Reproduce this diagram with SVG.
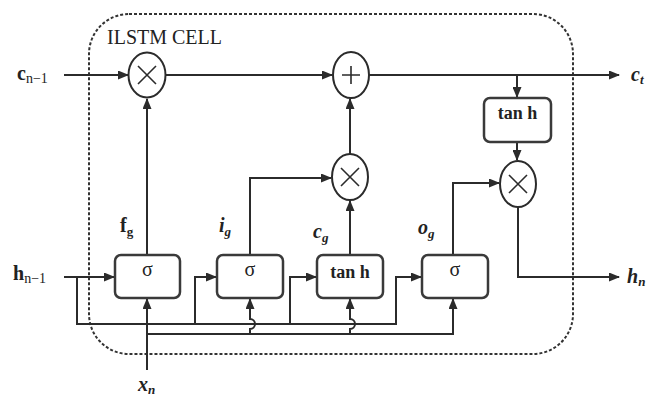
<svg xmlns="http://www.w3.org/2000/svg" width="646" height="396" viewBox="0 0 646 396">
<defs>
<marker id="ah" markerUnits="userSpaceOnUse" markerWidth="11" markerHeight="9" refX="10" refY="4.5" orient="auto">
<path d="M0,0 L11,4.5 L0,9 z" fill="#2b2b2b"/>
</marker>
<style>
.ln{fill:none;stroke:#2b2b2b;stroke-width:2}
.ar{fill:none;stroke:#2b2b2b;stroke-width:2;marker-end:url(#ah)}
.box{fill:#fff;stroke:#3a3a3a;stroke-width:2.5}
.op{fill:#fff;stroke:#2b2b2b;stroke-width:2}
.sym{stroke:#2b2b2b;stroke-width:1.6;fill:none}
.t{font-family:"Liberation Serif","DejaVu Serif",serif;fill:#222}
.b{font-weight:bold}
.i{font-style:italic}
</style>
</defs>
<rect width="646" height="396" fill="#fff"/>
<rect x="89" y="14" width="484" height="340" rx="40" fill="none" stroke="#333" stroke-width="2" stroke-dasharray="3 2"/>
<text class="t" x="107" y="44" font-size="21" textLength="115" lengthAdjust="spacingAndGlyphs" fill="#444">ILSTM CELL</text>

<g id="connectors">
<path class="ar" d="M64,75 H128"/>
<path class="ar" d="M166,75 H332"/>
<path class="ar" d="M369,75 H619"/>
<path class="ar" d="M517,75 V97"/>
<path class="ar" d="M517,142 V160"/>
<path class="ar" d="M147,255 V99"/>
<path class="ar" d="M250,255 V178 H331"/>
<path class="ar" d="M350,255 V201"/>
<path class="ar" d="M350,154 V99"/>
<path class="ar" d="M453,255 V183 H499"/>
<path class="ar" d="M518,207 V277 H619"/>
<path class="ar" d="M64,277 H114"/>
<path class="ar" d="M77,277 V324 H396 V277 H421"/>
<path class="ar" d="M195,324 V277 H216"/>
<path class="ar" d="M290,324 V277 H316"/>
<path class="ar" d="M147,370 V299"/>
<path class="ar" d="M147,334 H453 V299"/>
<path class="ar" d="M250,334 V329 A5,5 0 0 0 250,319 V299"/>
<path class="ar" d="M350,334 V329 A5,5 0 0 0 350,319 V299"/>
</g>

<g id="mul-forget">
<ellipse class="op" cx="147" cy="75" rx="18.5" ry="22.5"/>
<path class="sym" d="M138,66 L156,84 M156,66 L138,84"/>
</g>
<g id="add-cell">
<ellipse class="op" cx="351" cy="75" rx="18" ry="23"/>
<path class="sym" d="M342,75 H360 M351,66 V84" stroke-width="1.2"/>
</g>
<g id="mul-input">
<ellipse class="op" cx="350" cy="177" rx="18" ry="23"/>
<path class="sym" d="M341,168 L359,186 M359,168 L341,186"/>
</g>
<g id="mul-output">
<ellipse class="op" cx="518" cy="184" rx="18" ry="23"/>
<path class="sym" d="M509,175 L527,193 M527,175 L509,193"/>
</g>
<g id="tanh-out">
<rect class="box" x="484" y="98" width="67" height="44" rx="6"/>
<text class="t b" x="517.5" y="119" font-size="18" text-anchor="middle">tan h</text>
</g>
<g id="gate-f">
<rect class="box" x="115" y="255" width="65" height="43" rx="6"/>
<text class="t" x="147.5" y="276" font-size="20" text-anchor="middle">σ</text>
</g>
<g id="gate-i">
<rect class="box" x="217" y="255" width="66" height="43" rx="6"/>
<text class="t" x="250" y="276" font-size="20" text-anchor="middle">σ</text>
</g>
<g id="gate-c">
<rect class="box" x="317" y="255" width="66" height="43" rx="6"/>
<text class="t b" x="350" y="278" font-size="18" text-anchor="middle">tan h</text>
</g>
<g id="gate-o">
<rect class="box" x="422" y="255" width="66" height="43" rx="6"/>
<text class="t" x="455" y="276" font-size="20" text-anchor="middle">σ</text>
</g>

<g id="labels">
<text class="t b" x="17" y="80" font-size="20">c<tspan font-size="14" font-weight="normal" dy="3">n−1</tspan></text>
<text class="t b" x="13" y="280" font-size="20">h<tspan font-size="14" font-weight="normal" dy="3">n−1</tspan></text>
<text class="t b i" x="631" y="81" font-size="20">c<tspan font-size="13" dy="3">t</tspan></text>
<text class="t b i" x="627" y="283" font-size="20">h<tspan font-size="13" dy="3">n</tspan></text>
<text class="t b" x="120" y="232" font-size="20">f<tspan font-size="13" dy="4">g</tspan></text>
<text class="t b i" x="219" y="232" font-size="20">i<tspan font-size="13" dy="4">g</tspan></text>
<text class="t b i" x="313" y="238" font-size="20">c<tspan font-size="13" dy="4">g</tspan></text>
<text class="t b i" x="418" y="234" font-size="20">o<tspan font-size="13" dy="4">g</tspan></text>
<text class="t b i" x="138" y="391" font-size="20">x<tspan font-size="13" dy="3">n</tspan></text>
</g>
</svg>
